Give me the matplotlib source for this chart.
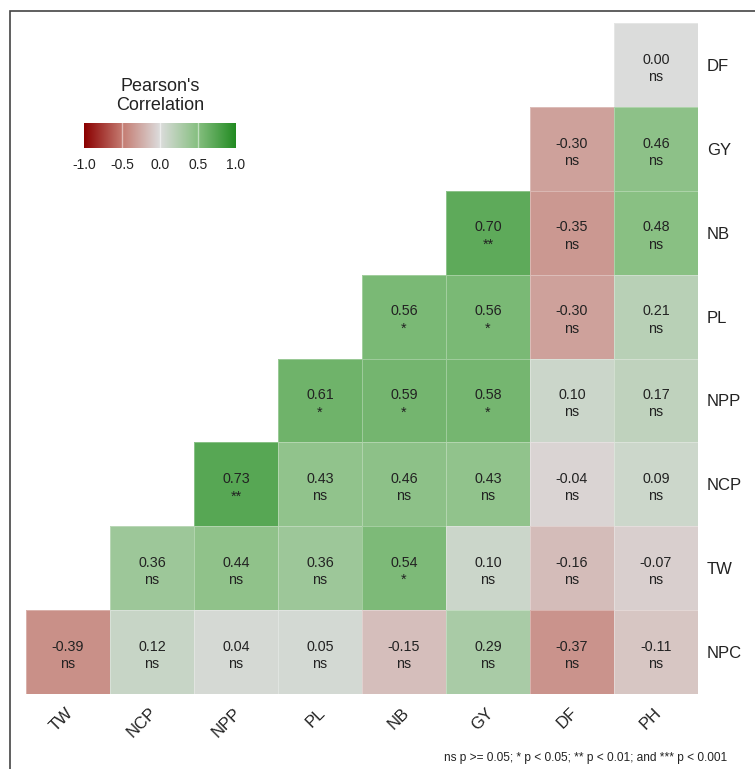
import numpy as np
import matplotlib
matplotlib.use("Agg")
import matplotlib.pyplot as plt
from matplotlib.colors import LinearSegmentedColormap
from matplotlib.patches import Rectangle
from matplotlib.transforms import ScaledTranslation, blended_transform_factory

plt.rcParams["font.family"] = ["Liberation Sans", "DejaVu Sans"]

# Trait names along each axis
x_traits = ["TW", "NCP", "NPP", "PL", "NB", "GY", "DF", "PH"]
y_traits = ["DF", "GY", "NB", "PL", "NPP", "NCP", "TW", "NPC"]  # top to bottom

# Pearson coefficients (None = cell not shown), one list per row
r_DF = [None, None, None, None, None, None, None, 0.00]
r_GY = [None, None, None, None, None, None, -0.30, 0.46]
r_NB = [None, None, None, None, None, 0.70, -0.35, 0.48]
r_PL = [None, None, None, None, 0.56, 0.56, -0.30, 0.21]
r_NPP = [None, None, None, 0.61, 0.59, 0.58, 0.10, 0.17]
r_NCP = [None, None, 0.73, 0.43, 0.46, 0.43, -0.04, 0.09]
r_TW = [None, 0.36, 0.44, 0.36, 0.54, 0.10, -0.16, -0.07]
r_NPC = [-0.39, 0.12, 0.04, 0.05, -0.15, 0.29, -0.37, -0.11]

# Significance codes, same layout
s_DF = [None, None, None, None, None, None, None, "ns"]
s_GY = [None, None, None, None, None, None, "ns", "ns"]
s_NB = [None, None, None, None, None, "**", "ns", "ns"]
s_PL = [None, None, None, None, "*", "*", "ns", "ns"]
s_NPP = [None, None, None, "*", "*", "*", "ns", "ns"]
s_NCP = [None, None, "**", "ns", "ns", "ns", "ns", "ns"]
s_TW = [None, "ns", "ns", "ns", "*", "ns", "ns", "ns"]
s_NPC = ["ns", "ns", "ns", "ns", "ns", "ns", "ns", "ns"]

r_rows = [r_DF, r_GY, r_NB, r_PL, r_NPP, r_NCP, r_TW, r_NPC]
s_rows = [s_DF, s_GY, s_NB, s_PL, s_NPP, s_NCP, s_TW, s_NPC]

key_ticks = [-1.0, -0.5, 0.0, 0.5, 1.0]
footnote = "ns p >= 0.05; * p < 0.05; ** p < 0.01; and *** p < 0.001"

cmap = LinearSegmentedColormap.from_list(
    "rdgn",
    [(0.00, "#8B0000"), (0.25, "#C47A70"), (0.50, "#DCDCDC"),
     (0.75, "#86BF80"), (1.00, "#228B22")],
)

W, H = 755, 769
fig = plt.figure(figsize=(W / 100, H / 100), dpi=100)


def fx(px):
    return px / W


def fy(py):
    return 1 - py / H


# outer frame
fig.patches.append(Rectangle((fx(10), -0.1), 1.2, fy(11) + 0.1,
                             transform=fig.transFigure, fill=False,
                             edgecolor="#444444", lw=1.2))

ax = fig.add_axes([fx(26), fy(694), fx(698) - fx(26), fy(23) - fy(694)])

vals = np.array([[np.nan if v is None else v for v in row] for row in r_rows])
masked = np.ma.masked_invalid(vals)
ax.pcolormesh(np.arange(len(x_traits) + 1), np.arange(len(y_traits) + 1), masked,
              cmap=cmap, vmin=-1, vmax=1, edgecolors=(1, 1, 1, 0.3),
              linewidth=0.6)
ax.set_xlim(0, len(x_traits))
ax.set_ylim(len(y_traits), 0)

for i, (rrow, srow) in enumerate(zip(r_rows, s_rows)):
    for j, (v, s) in enumerate(zip(rrow, srow)):
        if v is None:
            continue
        ax.text(j + 0.5, i + 0.54, f"{v:.2f}\n{s}", ha="center", va="center",
                multialignment="center", fontsize=10.3, color="#222222",
                linespacing=1.3)

for sp in ax.spines.values():
    sp.set_visible(False)
ax.tick_params(length=0)

# column names: rotated, right edge just past the column centre
ax.set_xticks([])
xlab_tr = blended_transform_factory(ax.transData, ax.transAxes) + \
    ScaledTranslation(8 / 100, -11 / 100, fig.dpi_scale_trans)
for j, name in enumerate(x_traits):
    ax.text(j + 0.5, 0, name, transform=xlab_tr, rotation=45, ha="right",
            va="top", fontsize=12, color="#222222")

ax.set_yticks(np.arange(len(y_traits)) + 0.5)
ax.set_yticklabels(y_traits, fontsize=12, color="#222222")
ax.yaxis.tick_right()
ax.tick_params(axis="y", pad=6.5)

# colour key
cax = fig.add_axes([fx(84), fy(148), fx(236) - fx(84), fy(123) - fy(148)])
grad = np.linspace(-1, 1, 256).reshape(1, -1)
cax.imshow(grad, aspect="auto", cmap=cmap, vmin=-1, vmax=1,
           extent=[-1, 1, 0, 1])
for t in key_ticks[1:-1]:
    cax.axvline(t, color="white", lw=1, alpha=0.5)
cax.set_xticks([])
cax.set_yticks([])
for sp in cax.spines.values():
    sp.set_visible(False)
for t in key_ticks:
    fig.text(fx(84 + (t + 1) / 2 * 152), fy(165), f"{t:.1f}", ha="center",
             va="center", fontsize=10, color="#222222")
fig.text(fx(160), fy(96), "Pearson's\nCorrelation", ha="center", va="center",
         fontsize=13, color="#222222", linespacing=1.15)

fig.text(fx(727), fy(758), footnote, ha="right", va="center", fontsize=8.6,
         color="#222222")

fig.savefig("out.png", dpi=100)
